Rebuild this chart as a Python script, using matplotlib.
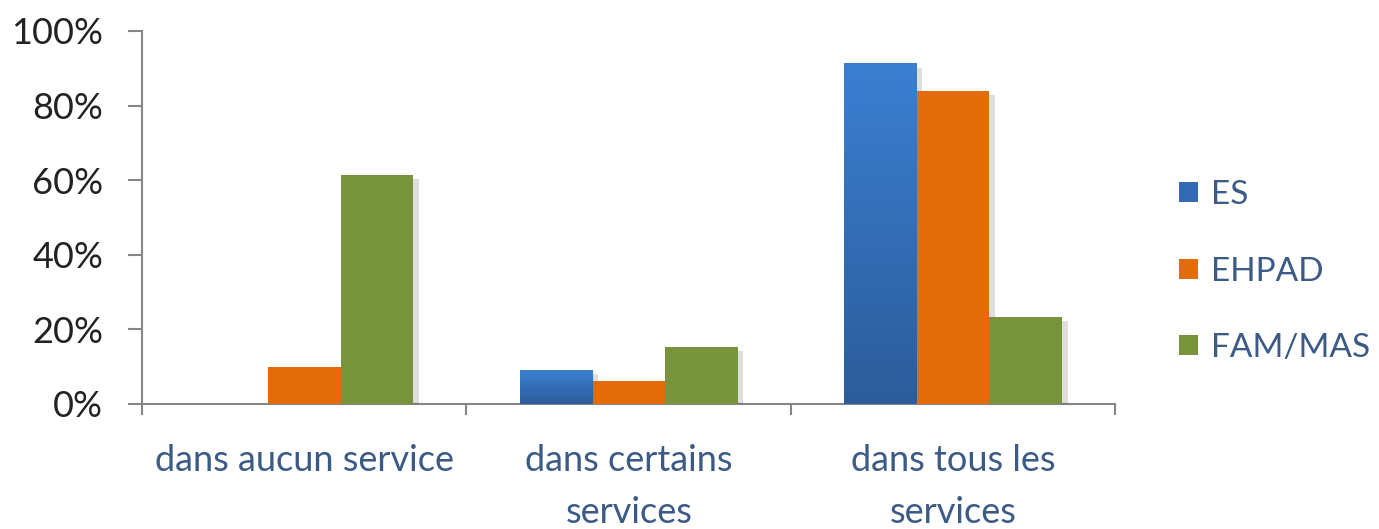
import numpy as np
import matplotlib.pyplot as plt
import matplotlib.patheffects as pe
from matplotlib.colors import LinearSegmentedColormap
from matplotlib.patches import Patch
from matplotlib.ticker import FixedLocator, PercentFormatter

categories = ['dans aucun service', 'dans certains\nservices', 'dans tous les\nservices']
series = ['ES', 'EHPAD', 'FAM/MAS']
es = [0, 9.1, 91.3]
ehpad = [10, 6.2, 84.0]
fam_mas = [61.4, 15.4, 23.4]
yticks = [0, 20, 40, 60, 80, 100]

colors = ['#3a7bcd', '#e36c0a', '#77933c']
text_blue = '#3b5a86'

plt.rcParams['font.family'] = ['Lato', 'DejaVu Sans']

fig = plt.figure(figsize=(13.79, 5.29), dpi=100)
ax = fig.add_axes([0.103, 0.2363, 0.7058, 0.7051])

x = np.arange(len(categories))
width = 0.224
shadow = [pe.SimplePatchShadow(offset=(4, -3), shadow_rgbFace='#000000', alpha=0.13), pe.Normal()]

bar_groups = []
for i, (name, vals) in enumerate(zip(series, [es, ehpad, fam_mas])):
    bars = ax.bar(x + (i - 1) * width, vals, width, color=colors[i],
                  zorder=3, path_effects=shadow)
    bar_groups.append(bars)

# vertical gradient on the blue bars
grad = np.linspace(0, 1, 256).reshape(-1, 1)
cmap = LinearSegmentedColormap.from_list('esgrad', ['#2c5c9a', '#3b7fd2'])
for b in bar_groups[0]:
    if b.get_height() <= 0:
        continue
    x0, y0 = b.get_x(), b.get_y()
    im = ax.imshow(grad, extent=[x0, x0 + b.get_width(), y0, y0 + b.get_height()],
                   cmap=cmap, aspect='auto', origin='lower', zorder=4)
    im.set_clip_path(b)

ax.set_xlim(-0.5, 2.5)
ax.set_ylim(0, 100)
ax.set_yticks(yticks)
ax.yaxis.set_major_formatter(PercentFormatter(decimals=0))
ax.set_xticks(x)
ax.set_xticklabels(categories, color=text_blue, fontsize=26, linespacing=1.7, va='top')
ax.xaxis.set_minor_locator(FixedLocator([-0.5, 0.5, 1.5, 2.5]))

for side in ['top', 'right']:
    ax.spines[side].set_visible(False)
for side in ['left', 'bottom']:
    ax.spines[side].set_color('#868686')
    ax.spines[side].set_linewidth(1.5)

ax.tick_params(axis='y', colors='#868686', labelcolor='#222222', labelsize=26,
               length=10, width=1.5, pad=18)
ax.tick_params(axis='x', which='major', length=0, pad=29)
ax.tick_params(axis='x', which='minor', length=8, width=1.5, color='#868686')

handles = [Patch(facecolor=c, label=s) for c, s in zip(colors, series)]
handles[0] = Patch(facecolor='#3469b5', label=series[0])
ax.legend(handles=handles, loc='center left', bbox_to_anchor=(1.035, 0.355),
          frameon=False, fontsize=24, labelspacing=1.4, handlelength=0.55,
          handleheight=0.55, handletextpad=0.4, labelcolor=text_blue)

fig.savefig('out.png', dpi=100)
